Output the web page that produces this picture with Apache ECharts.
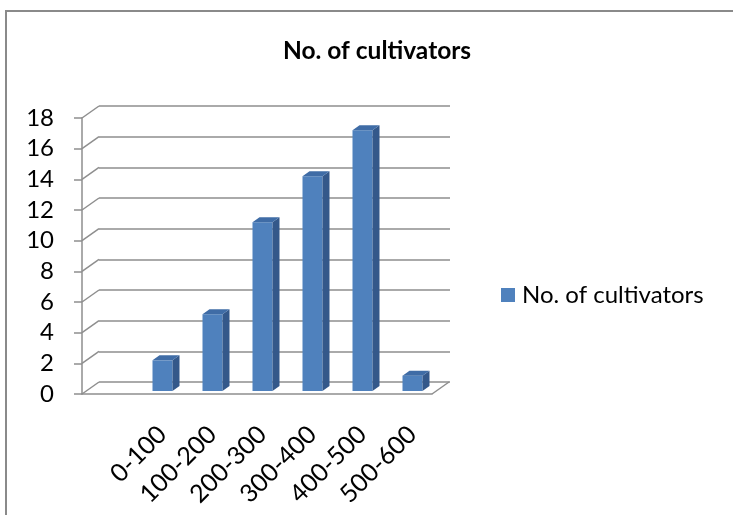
<!DOCTYPE html>
<html>
<head>
<meta charset="utf-8">
<script src="https://cdn.jsdelivr.net/npm/echarts@6/dist/echarts.min.js"></script>
<style>
  html, body { margin: 0; padding: 0; background: #fff; }
  #chart { width: 733px; height: 515px; }
</style>
</head>
<body>
<div id="chart"></div>
<script>
// 类别（第一个是空的）
const categories = ['', '0-100', '100-200', '200-300', '300-400', '400-500', '500-600'];
const cultivators = [null, 2, 5, 11, 14, 17, 1];
const yTicks = [0, 2, 4, 6, 8, 10, 12, 14, 16, 18];

const chart = echarts.init(document.getElementById('chart'));
const FONT = 'Lato, "Open Sans", sans-serif';
const GRID_COLOR = '#8e8e8e';
// 3D 深度偏移
const DEPTH_X = 17, DEPTH_Y = -12;

// 左边斜线 + 地板右侧斜线
function renderDepthLine(params, api) {
  const p = api.coord([0, api.value(1)]);
  const half = api.size([1, 0])[0] / 2;
  const x0 = p[0] - half;
  const children = [{
    type: 'line',
    shape: { x1: x0, y1: p[1], x2: x0 + DEPTH_X, y2: p[1] + DEPTH_Y },
    style: { stroke: GRID_COLOR, lineWidth: 1.5 }
  }];
  if (api.value(1) === 0) {
    const q = api.coord([categories.length - 1, 0]);
    const x1 = q[0] + half;
    children.push({
      type: 'line',
      shape: { x1: x1, y1: q[1], x2: x1 + DEPTH_X, y2: q[1] + DEPTH_Y },
      style: { stroke: GRID_COLOR, lineWidth: 1.5 }
    });
  }
  return { type: 'group', children: children };
}

// 3D 柱子
function renderBar(params, api) {
  const v = api.value(1);
  if (v == null || isNaN(v)) return;
  const base = api.coord([api.value(0), 0]);
  const top = api.coord([api.value(0), v]);
  const w = 20, dx = 7, dy = -5;
  const left = base[0] - 4.5;
  const right = left + w;
  const yb = base[1] - 3;
  const yt = top[1] - 3;
  return {
    type: 'group',
    children: [
      { type: 'rect', shape: { x: left, y: yt, width: w, height: yb - yt },
        style: { fill: '#4f81bd' } },
      { type: 'polygon', shape: { points: [[right, yt], [right + dx, yt + dy], [right + dx, yb + dy], [right, yb]] },
        style: { fill: '#34588a' } },
      { type: 'polygon', shape: { points: [[left, yt], [left + dx, yt + dy], [right + dx, yt + dy], [right, yt]] },
        style: { fill: '#3f6ca6' } }
    ]
  };
}

chart.setOption({
  animation: false,
  backgroundColor: '#fff',
  title: {
    text: 'No. of cultivators',
    left: 372,
    top: 34,
    textAlign: 'center',
    textStyle: { fontFamily: FONT, fontSize: 24.5, fontWeight: 'bold', color: '#000' }
  },
  legend: {
    left: 501,
    top: 283,
    padding: 0,
    itemWidth: 14,
    itemHeight: 14,
    icon: 'rect',
    textStyle: { fontFamily: FONT, fontSize: 24, color: '#000', padding: [0, 0, 0, 2] },
    data: ['No. of cultivators']
  },
  graphic: [{
    type: 'rect',
    shape: { x: 6, y: 11, width: 800, height: 600 },
    style: { fill: null, stroke: '#8a8a8a', lineWidth: 2 },
    silent: true
  }],
  grid: [
    // 前面
    { left: 82, top: 118, width: 350, height: 276 },
    // 后墙
    { left: 99, top: 106, width: 351, height: 276 }
  ],
  xAxis: [
    {
      gridIndex: 0,
      type: 'category',
      data: categories,
      axisLine: { lineStyle: { color: GRID_COLOR, width: 1.5 } },
      axisTick: { length: 7, interval: 0, lineStyle: { color: GRID_COLOR, width: 1.5 } },
      axisLabel: {
        interval: 0, rotate: 45, margin: 24, verticalAlign: 'top',
        padding: [0, 5, 0, 0],
        fontFamily: FONT, fontSize: 25, color: '#000'
      }
    },
    {
      gridIndex: 1,
      type: 'category',
      data: categories,
      show: false
    }
  ],
  yAxis: [
    {
      gridIndex: 0,
      type: 'value',
      min: 0, max: 18, interval: 2,
      axisLine: { show: true, lineStyle: { color: GRID_COLOR, width: 1.5 } },
      axisTick: { show: true, length: 8, lineStyle: { color: GRID_COLOR, width: 1.5 } },
      axisLabel: { margin: 28, fontFamily: FONT, fontSize: 24, color: '#000' },
      splitLine: { show: false }
    },
    {
      gridIndex: 1,
      type: 'value',
      min: 0, max: 18, interval: 2,
      axisLine: { show: false },
      axisTick: { show: false },
      axisLabel: { show: false },
      splitLine: { show: true, lineStyle: { color: GRID_COLOR, width: 1.5 } }
    }
  ],
  series: [
    {
      type: 'custom',
      name: 'depth',
      xAxisIndex: 0, yAxisIndex: 0,
      renderItem: renderDepthLine,
      data: yTicks.map(function (t) { return [0, t]; }),
      silent: true,
      z: 1
    },
    {
      type: 'custom',
      name: 'No. of cultivators',
      xAxisIndex: 0, yAxisIndex: 0,
      itemStyle: { color: '#4f81bd' },
      renderItem: renderBar,
      data: cultivators.map(function (v, i) { return [i, v]; }),
      z: 3
    }
  ]
});
</script>
</body>
</html>
